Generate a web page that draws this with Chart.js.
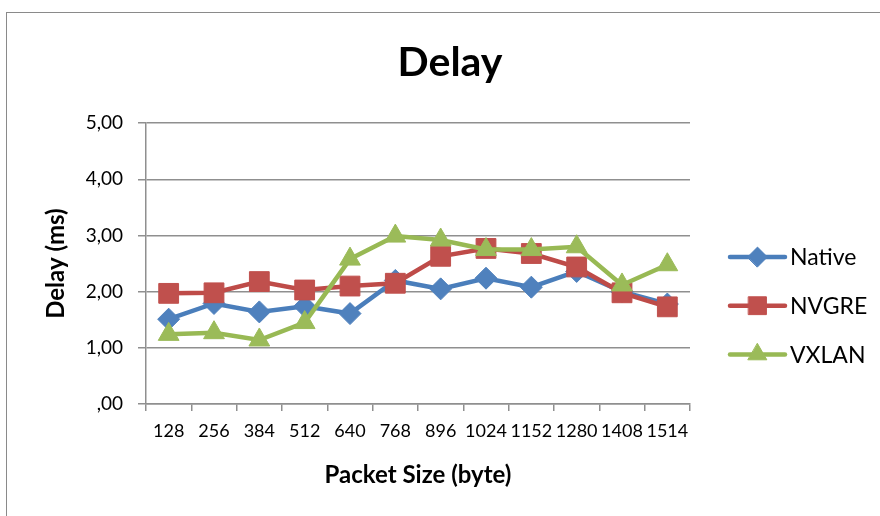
<!DOCTYPE html>
<html>
<head>
<meta charset="utf-8">
<title>Delay</title>
<script src="https://cdn.jsdelivr.net/npm/chart.js@4.4.1/dist/chart.umd.min.js"></script>
<style>
  html, body { margin: 0; padding: 0; background: #fff; overflow: hidden; }
  #frame { position: absolute; left: 6px; top: 12px; width: 900px; height: 600px; border: 1.5px solid #8a8a8a; }
  #wrap { position: absolute; left: 0; top: 0; width: 880px; height: 516px; }
</style>
</head>
<body>
<div id="frame"></div>
<div id="wrap"><canvas id="chart" width="880" height="516"></canvas></div>
<script>
// values
const packetSizes = ['128', '256', '384', '512', '640', '768', '896', '1024', '1152', '1280', '1408', '1514'];
const nativeDelay = [1.51, 1.79, 1.64, 1.74, 1.61, 2.20, 2.05, 2.24, 2.08, 2.36, 2.00, 1.78];
const nvgreDelay  = [1.97, 1.98, 2.18, 2.03, 2.10, 2.15, 2.63, 2.77, 2.68, 2.44, 1.98, 1.73];
const vxlanDelay  = [1.24, 1.27, 1.14, 1.45, 2.58, 2.99, 2.92, 2.75, 2.75, 2.80, 2.12, 2.48];
const yTicks = [0, 1, 2, 3, 4, 5];

const FONT = 'Lato';
const GRID = '#8f8f8f';

// Excel-like legend: short line with the marker in the middle
const lineLegend = {
  id: 'lineLegend',
  afterDraw(chart) {
    const ctx = chart.ctx;
    const x0 = chart.chartArea.right + 40;
    const x1 = x0 + 55;
    chart.data.datasets.forEach(function (ds, i) {
      const y = 257 + i * 48.7;
      ctx.save();
      ctx.strokeStyle = ds.borderColor;
      ctx.lineWidth = ds.borderWidth;
      ctx.lineCap = 'round';
      ctx.beginPath();
      ctx.moveTo(x0, y);
      ctx.lineTo(x1, y);
      ctx.stroke();
      ctx.fillStyle = ds.pointBackgroundColor;
      ctx.strokeStyle = ds.pointBorderColor;
      ctx.lineWidth = 1;
      Chart.helpers.drawPoint(ctx, {
        pointStyle: ds.pointStyle,
        radius: ds.pointRadius * 0.9,
        rotation: 0,
        borderWidth: 1
      }, (x0 + x1) / 2, y);
      ctx.fillStyle = '#000';
      ctx.font = '23px ' + FONT;
      ctx.textBaseline = 'middle';
      ctx.textAlign = 'left';
      ctx.fillText(ds.label, x1 + 5, y + 1);
      ctx.restore();
    });
  }
};

function series(label, data, color, fill, style, radius, order) {
  return {
    label: label,
    data: data,
    borderColor: color,
    backgroundColor: fill,
    borderWidth: 4.5,
    pointStyle: style,
    pointRadius: radius,
    pointHoverRadius: radius,
    pointBackgroundColor: fill,
    pointBorderColor: fill,
    pointBorderWidth: 1,
    tension: 0,
    fill: false,
    order: order
  };
}

new Chart(document.getElementById('chart').getContext('2d'), {
  type: 'line',
  data: {
    labels: packetSizes,
    datasets: [
      series('Native', nativeDelay, '#4a7ebb', '#4f81bd', 'rectRot', 11, 2),
      series('NVGRE', nvgreDelay, '#be4b48', '#c0504d', 'rect', 14, 1),
      series('VXLAN', vxlanDelay, '#98b954', '#9bbb59', 'triangle', 12, 0)
    ]
  },
  options: {
    responsive: false,
    animation: false,
    events: [],
    layout: { padding: { left: 20, right: 0, top: 0, bottom: 0 } },
    plugins: {
      legend: { display: false },
      tooltip: { enabled: false },
      title: {
        display: true,
        text: 'Delay',
        color: '#000',
        font: { family: FONT, size: 41, weight: 'bold' },
        padding: { top: 38, bottom: 36 }
      }
    },
    scales: {
      x: {
        offset: true,
        grid: {
          display: true,
          offset: true,
          drawOnChartArea: false,
          color: GRID,
          lineWidth: 1.5,
          tickLength: 7
        },
        border: { display: true, color: GRID, width: 1.5 },
        ticks: {
          color: '#000',
          font: { family: FONT, size: 18 },
          padding: 9,
          autoSkip: false,
          maxRotation: 0,
          minRotation: 0
        },
        title: {
          display: true,
          text: 'Packet Size (byte)',
          color: '#000',
          font: { family: FONT, size: 24, weight: 'bold' },
          padding: { top: 4, bottom: 26 }
        },
        afterFit: function (s) { s.height = 112; }
      },
      y: {
        min: 0,
        max: 5,
        afterBuildTicks: function (s) { s.ticks = yTicks.map(function (v) { return { value: v }; }); },
        grid: { color: GRID, lineWidth: 1.5, tickLength: 8 },
        border: { display: true, color: GRID, width: 1.5 },
        ticks: {
          color: '#000',
          font: { family: FONT, size: 19 },
          padding: 15,
          callback: function (v) { return v === 0 ? ',00' : v.toFixed(2).replace('.', ','); }
        },
        title: {
          display: true,
          text: 'Delay (ms)',
          color: '#000',
          font: { family: FONT, size: 24, weight: 'bold' },
          padding: { top: 22, bottom: 0 }
        },
        afterFit: function (s) { s.width = 126; }
      },
      legendSpace: {
        type: 'linear',
        position: 'right',
        display: true,
        grid: { display: false },
        border: { display: false },
        ticks: { display: false },
        afterFit: function (s) { s.width = 190; }
      }
    }
  },
  plugins: [lineLegend]
});
</script>
</body>
</html>
